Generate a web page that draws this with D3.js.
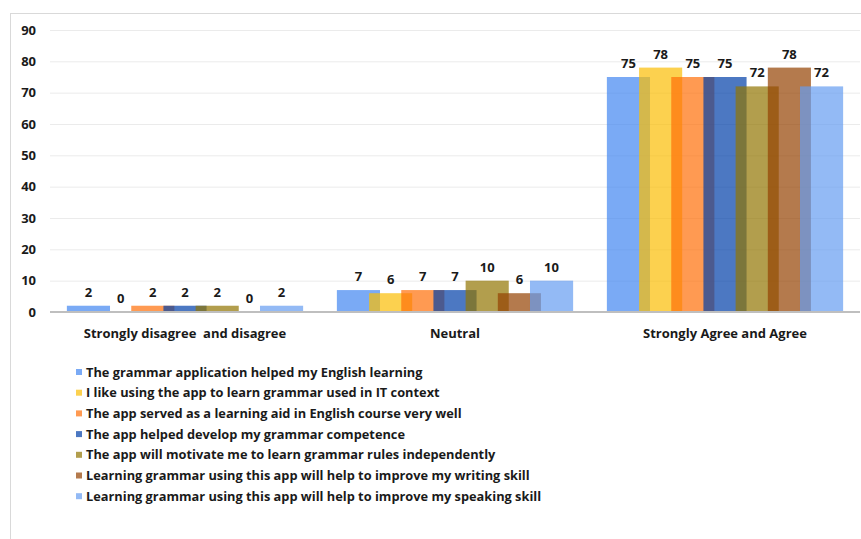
<!DOCTYPE html>
<html>
<head>
<meta charset="utf-8">
<script src="https://cdn.jsdelivr.net/npm/d3@7"></script>
<style>
  html, body { margin: 0; padding: 0; background: #fff; }
  svg text { font-family: "Open Sans", "Noto Sans", sans-serif; font-weight: 700; fill: #1a1a1a; }
</style>
</head>
<body>
<svg id="chart" width="861" height="539"></svg>
<script>
// Response categories along the x axis
const categories = ["Strongly disagree  and disagree", "Neutral", "Strongly Agree and Agree"];

// Survey statements (one series each)
const seriesNames = [
  "The grammar application helped my English learning",
  "I like using the app to learn grammar used in IT context",
  "The app served as a learning aid in English course very well",
  "The app helped develop my grammar competence",
  "The app will motivate me to learn grammar rules independently",
  "Learning grammar using this app will help to improve my writing skill",
  "Learning grammar using this app will help to improve my speaking skill"
];

// Percentages per statement, in category order
const s1 = [2, 7, 75];
const s2 = [0, 6, 78];
const s3 = [2, 7, 75];
const s4 = [2, 7, 75];
const s5 = [2, 10, 72];
const s6 = [0, 6, 78];
const s7 = [2, 10, 72];
const seriesValues = [s1, s2, s3, s4, s5, s6, s7];

const yTicks = [0, 10, 20, 30, 40, 50, 60, 70, 80, 90];

const colors = ["#4186F1", "#FBBD04", "#FF6F08", "#003FA8", "#927502", "#944202", "#659CF1"];
const barOpacity = 0.7;

const svg = d3.select("#chart");

// outer frame
svg.append("rect")
  .attr("x", 10.5).attr("y", 13.5)
  .attr("width", 900).attr("height", 600)
  .attr("fill", "none").attr("stroke", "#D9D9D9").attr("stroke-width", 1);

const plot = { left: 50, right: 860, top: 30, bottom: 312 };

const y = d3.scaleLinear().domain([0, 90]).range([plot.bottom, plot.top]);

const x0 = d3.scaleBand()
  .domain(categories)
  .range([plot.left, plot.right])
  .paddingInner(0.125)
  .paddingOuter(0.0625);

// bars overlap: width is ~1.34 times the step between neighbours
const overlapRatio = 1.34;
const stepW = x0.bandwidth() / (seriesNames.length - 1 + overlapRatio);
const barW = stepW * overlapRatio;
const x1 = d3.scalePoint()
  .domain(d3.range(seriesNames.length))
  .range([0, x0.bandwidth() - barW]);

// gridlines
svg.append("g")
  .selectAll("line")
  .data(yTicks.filter(t => t > 0))
  .join("line")
  .attr("x1", plot.left).attr("x2", plot.right)
  .attr("y1", d => y(d) + 0.5).attr("y2", d => y(d) + 0.5)
  .attr("stroke", "#EBEBEB").attr("stroke-width", 1);

// y tick labels
svg.append("g")
  .selectAll("text")
  .data(yTicks)
  .join("text")
  .attr("x", 36)
  .attr("y", d => y(d) + 4.5)
  .attr("text-anchor", "end")
  .attr("font-size", 13)
  .text(d => d);

// bars
const barData = [];
seriesValues.forEach((vals, si) => {
  vals.forEach((v, ci) => barData.push({ si, ci, v }));
});

svg.append("g")
  .selectAll("rect")
  .data(barData)
  .join("rect")
  .attr("x", d => x0(categories[d.ci]) + x1(d.si))
  .attr("y", d => y(d.v))
  .attr("width", barW)
  .attr("height", d => y(0) - y(d.v))
  .attr("fill", d => colors[d.si])
  .attr("fill-opacity", barOpacity);

// zero baseline
svg.append("line")
  .attr("x1", plot.left).attr("x2", plot.right)
  .attr("y1", y(0)).attr("y2", y(0))
  .attr("stroke", "#BFBFBF").attr("stroke-width", 2);

// value labels
svg.append("g")
  .selectAll("text")
  .data(barData)
  .join("text")
  .attr("x", d => x0(categories[d.ci]) + x1(d.si) + barW / 2)
  .attr("y", d => y(d.v) - 9)
  .attr("text-anchor", "middle")
  .attr("font-size", 13)
  .text(d => d.v);

// category labels
svg.append("g")
  .selectAll("text")
  .data(categories)
  .join("text")
  .attr("x", d => x0(d) + x0.bandwidth() / 2)
  .attr("y", 337.5)
  .attr("text-anchor", "middle")
  .attr("font-size", 13)
  .style("white-space", "pre")
  .text(d => d);

// legend
const legend = svg.append("g")
  .selectAll("g")
  .data(seriesNames)
  .join("g")
  .attr("transform", (d, i) => `translate(76, ${372 + i * 20.7})`);

legend.append("rect")
  .attr("x", 0).attr("y", -3)
  .attr("width", 6).attr("height", 6)
  .attr("fill", (d, i) => colors[i])
  .attr("fill-opacity", barOpacity);

legend.append("text")
  .attr("x", 10)
  .attr("y", 4.5)
  .attr("font-size", 12.8)
  .text(d => d);
</script>
</body>
</html>
